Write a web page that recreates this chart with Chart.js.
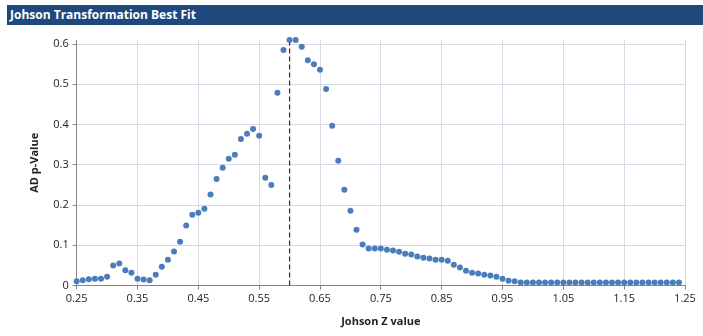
<!DOCTYPE html>
<html>
<head>
<meta charset="utf-8">
<script src="https://cdn.jsdelivr.net/npm/chart.js@4/dist/chart.umd.min.js"></script>
<style>
    body { margin: 0; background: #fff; }
    #wrap { position: relative; width: 703px; height: 336px; }
    #title {
        position: absolute; left: 7px; top: 5px; width: 696px; height: 20px;
        background: #1F497D; color: #fff;
        font: bold 12px "Open Sans", sans-serif; line-height: 20px;
        padding-left: 3px; box-sizing: border-box;
    }
    canvas { position: absolute; left: 0; top: 0; }
</style>
</head>
<body>
<div id="wrap">
    <div id="title">Johson Transformation Best Fit</div>
    <canvas id="fitChart" width="703" height="336"></canvas>
</div>
<script>
// Johnson Z values tested
const zValues = [
    0.25, 0.26, 0.27, 0.28, 0.29, 0.30, 0.31, 0.32, 0.33, 0.34,
    0.35, 0.36, 0.37, 0.38, 0.39, 0.40, 0.41, 0.42, 0.43, 0.44,
    0.45, 0.46, 0.47, 0.48, 0.49, 0.50, 0.51, 0.52, 0.53, 0.54,
    0.55, 0.56, 0.57, 0.58, 0.59, 0.60, 0.61, 0.62, 0.63, 0.64,
    0.65, 0.66, 0.67, 0.68, 0.69, 0.70, 0.71, 0.72, 0.73, 0.74,
    0.75, 0.76, 0.77, 0.78, 0.79, 0.80, 0.81, 0.82, 0.83, 0.84,
    0.85, 0.86, 0.87, 0.88, 0.89, 0.90, 0.91, 0.92, 0.93, 0.94,
    0.95, 0.96, 0.97, 0.98, 0.99, 1.00, 1.01, 1.02, 1.03, 1.04,
    1.05, 1.06, 1.07, 1.08, 1.09, 1.10, 1.11, 1.12, 1.13, 1.14,
    1.15, 1.16, 1.17, 1.18, 1.19, 1.20, 1.21, 1.22, 1.23, 1.24
];

// Anderson-Darling p-value for each Z
const pValues = [
    0.011, 0.013, 0.016, 0.017, 0.017, 0.022, 0.050, 0.055, 0.038, 0.032,
    0.017, 0.015, 0.013, 0.027, 0.047, 0.064, 0.085, 0.109, 0.149, 0.176,
    0.181, 0.191, 0.226, 0.265, 0.293, 0.315, 0.325, 0.364, 0.377, 0.389,
    0.372, 0.268, 0.250, 0.479, 0.585, 0.610, 0.610, 0.593, 0.560, 0.550,
    0.536, 0.488, 0.397, 0.310, 0.238, 0.186, 0.139, 0.102, 0.092, 0.092,
    0.092, 0.089, 0.087, 0.084, 0.079, 0.077, 0.072, 0.069, 0.067, 0.064,
    0.064, 0.062, 0.052, 0.045, 0.037, 0.032, 0.030, 0.027, 0.025, 0.022,
    0.017, 0.012, 0.011, 0.008, 0.008, 0.008, 0.008, 0.008, 0.008, 0.008,
    0.008, 0.008, 0.008, 0.008, 0.008, 0.008, 0.008, 0.008, 0.008, 0.008,
    0.008, 0.008, 0.008, 0.008, 0.008, 0.008, 0.008, 0.008, 0.008, 0.008
];

const xTicks = [0.25, 0.35, 0.45, 0.55, 0.65, 0.75, 0.85, 0.95, 1.05, 1.15, 1.25];
const yTicks = [0, 0.1, 0.2, 0.3, 0.4, 0.5, 0.6];

// best fit marker
const bestZ = 0.6;
const bestP = 0.61;

const gridColor = '#D9D9E8';
const axisColor = '#868686';
const tickFont = { family: 'Open Sans', size: 11 };
const titleFont = { family: 'Open Sans', size: 11, weight: 'bold' };

new Chart(document.getElementById('fitChart'), {
    type: 'scatter',
    data: {
        datasets: [{
            label: 'AD p-Value',
            data: zValues.map((z, i) => ({ x: z, y: pValues[i] })),
            backgroundColor: '#4A7EBB',
            borderWidth: 0,
            pointRadius: 3,
            pointHoverRadius: 3
        }, {
            label: 'Best fit',
            type: 'line',
            data: [{ x: bestZ, y: 0 }, { x: bestZ, y: bestP }],
            borderColor: '#6E0A0A',
            borderWidth: 1.2,
            borderDash: [5, 3],
            pointRadius: 0,
            fill: false
        }]
    },
    options: {
        responsive: false,
        animation: false,
        clip: false,
        layout: { padding: { top: 40, left: 28, right: 18, bottom: 8 } },
        plugins: {
            legend: { display: false },
            tooltip: { enabled: false }
        },
        scales: {
            x: {
                type: 'linear',
                min: 0.25,
                max: 1.25,
                afterBuildTicks: axis => { axis.ticks = xTicks.map(v => ({ value: v })); },
                ticks: {
                    color: '#222',
                    font: tickFont,
                    padding: 3,
                    maxRotation: 0,
                    callback: v => v.toFixed(2)
                },
                grid: { color: gridColor, tickLength: 4, tickColor: axisColor },
                border: { color: axisColor },
                title: { display: true, text: 'Johson Z value', color: '#222', font: titleFont, padding: { top: 6, bottom: 0 } }
            },
            y: {
                min: 0,
                max: 0.61,
                afterBuildTicks: axis => { axis.ticks = yTicks.map(v => ({ value: v })); },
                ticks: {
                    color: '#222',
                    font: tickFont,
                    padding: 4,
                    callback: v => v === 0 ? '0' : v.toFixed(1)
                },
                grid: { color: gridColor, tickLength: 4, tickColor: axisColor },
                border: { color: axisColor },
                title: { display: true, text: 'AD p-Value', color: '#222', font: titleFont, padding: { top: 0, bottom: 8 } }
            }
        }
    }
});
</script>
</body>
</html>
